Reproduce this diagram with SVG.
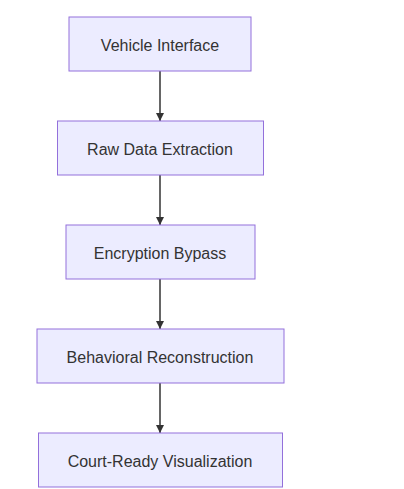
<svg xmlns="http://www.w3.org/2000/svg" width="404" height="489" viewBox="0 0 404 489">
<defs>
<marker id="arrow" viewBox="0 0 10 10" refX="10" refY="5" markerWidth="8" markerHeight="8" markerUnits="userSpaceOnUse" orient="auto">
<path d="M0,0 L10,5 L0,10 z" fill="#333333"/>
</marker>
</defs>
<style>
.node rect{fill:#ECECFF;stroke:#9370DB;stroke-width:1px;}
.node text{font-family:"Liberation Sans",Arial,sans-serif;font-size:16px;fill:#333333;text-anchor:middle;}
.edge{stroke:#333333;stroke-width:1.5px;fill:none;}
</style>
<rect width="404" height="489" fill="#ffffff"/>
<g id="connectors">
<line class="edge" x1="160" y1="71" x2="160" y2="121" marker-end="url(#arrow)"/>
<line class="edge" x1="160" y1="175" x2="160" y2="225" marker-end="url(#arrow)"/>
<line class="edge" x1="160" y1="279" x2="160" y2="329" marker-end="url(#arrow)"/>
<line class="edge" x1="160" y1="383" x2="160" y2="433" marker-end="url(#arrow)"/>
</g>
<g id="vehicle-interface" class="node">
<rect x="69" y="17" width="182" height="54"/>
<text x="160" y="50.5">Vehicle Interface</text>
</g>
<g id="raw-data-extraction" class="node">
<rect x="57.5" y="121" width="206" height="54"/>
<text x="160" y="154.5">Raw Data Extraction</text>
</g>
<g id="encryption-bypass" class="node">
<rect x="66" y="225" width="189" height="54"/>
<text x="160" y="258.5">Encryption Bypass</text>
</g>
<g id="behavioral-reconstruction" class="node">
<rect x="37" y="329" width="247" height="54"/>
<text x="160" y="362.5">Behavioral Reconstruction</text>
</g>
<g id="court-ready-visualization" class="node">
<rect x="38.5" y="433" width="244" height="54"/>
<text x="160" y="466.5">Court-Ready Visualization</text>
</g>
</svg>
